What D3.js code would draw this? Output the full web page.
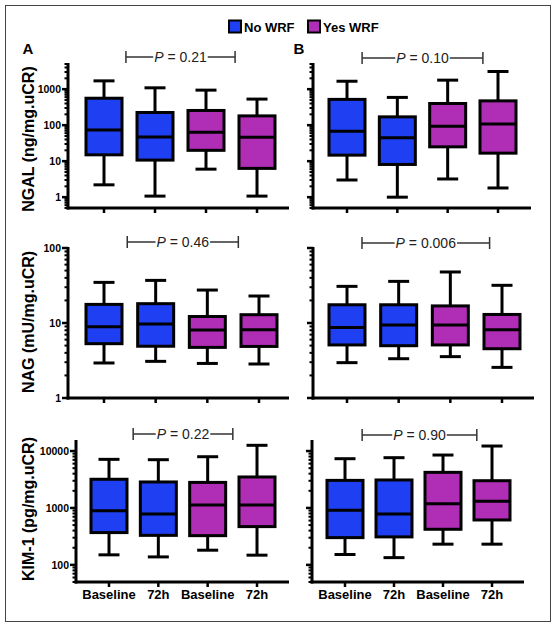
<!DOCTYPE html>
<html><head><meta charset="utf-8">
<script src="https://cdn.jsdelivr.net/npm/d3@7"></script>
<style>
html,body{margin:0;padding:0;background:#fff;}
svg text{font-family:"Liberation Sans",Arial,Helvetica,sans-serif;}
</style></head>
<body><svg id="c" width="556" height="628"></svg>
<script>
// ---- data ----
const categories = ["Baseline", "72h", "Baseline", "72h"];
const groups = ["No WRF", "No WRF", "Yes WRF", "Yes WRF"];
const legendLabels = ["No WRF", "Yes WRF"];
const groupColors = ["#1f3ff2", "#b02db6"];
// five-number summaries: [whisker low, Q1, median, Q3, whisker high]
const ngalA = [[2.2, 15, 73, 560, 1700], [1.07, 10.7, 47, 225, 1090], [6.0, 20, 64, 256, 940], [1.07, 6.3, 46, 181, 530]];
const ngalB = [[3.0, 14.7, 68, 520, 1660], [1.0, 8.1, 44.5, 170, 590], [3.2, 25, 94, 400, 1780], [1.8, 16.7, 107, 473, 3100]];
const nagA = [[2.93, 5.3, 8.9, 17.7, 34.8], [3.08, 4.9, 9.7, 18.1, 37], [2.89, 4.73, 8.07, 12.2, 27.5], [2.84, 4.87, 8.15, 12.9, 22.9]];
const nagB = [[2.96, 5.1, 8.7, 17.5, 30.8], [3.34, 4.98, 9.4, 17.5, 35.9], [3.56, 5.1, 9.4, 16.9, 47.9], [2.56, 4.54, 8.15, 13.0, 31.8]];
const kimA = [[150, 369, 897, 3190, 7140], [138, 330, 785, 2860, 7040], [181, 326, 1130, 2810, 7940], [148, 470, 1130, 3500, 12600]];
const kimB = [[152, 301, 908, 3050, 7330], [134, 310, 785, 3100, 7640], [231, 422, 1190, 4220, 8500], [231, 615, 1305, 3010, 12240]];
const pValues = ["0.21", "0.10", "0.46", "0.006", "0.22", "0.90"];
const yLabels = ["NGAL (ng/mg.uCR)", "NAG (mU/mg.uCR)", "KIM-1 (pg/mg.uCR)"];
const yDomains = [[0.5, 5000], [1, 100], [50, 15000]];
const yTickLabels = [[1, 10, 100, 1000], [1, 10, 100], [100, 1000, 10000]];
const panelLetters = ["A", "B"];

// ---- layout ----
const svg = d3.select("#c");
svg.append("rect").attr("x", 5.5).attr("y", 5.5).attr("width", 545).attr("height", 616)
  .attr("fill", "none").attr("stroke", "#444").attr("stroke-width", 1);

const rows = [
  {top: 64, bottom: 208, panels: [
    {data: ngalA, axisX: 68, right: 289, x0: 104, x1: 257, br: [0.43, 2.57], brY: 57, p: 0, labels: true},
    {data: ngalB, axisX: 313, right: 531, x0: 347, x1: 498, br: [0.30, 2.70], brY: 58, p: 1, labels: false}]},
  {top: 248, bottom: 398, panels: [
    {data: nagA, axisX: 68, right: 289, x0: 104, x1: 259, br: [0.45, 2.6], brY: 242, p: 2, labels: true},
    {data: nagB, axisX: 313, right: 534, x0: 347, x1: 502, br: [0.29, 2.76], brY: 243, p: 3, labels: false}]},
  {top: 441, bottom: 582, panels: [
    {data: kimA, axisX: 76, right: 289, x0: 109, x1: 257, br: [0.49, 2.51], brY: 434, p: 4, labels: true},
    {data: kimB, axisX: 312, right: 524, x0: 345, x1: 492, br: [0.35, 2.69], brY: 435, p: 5, labels: false}]}
];
const yLabelY = [139, 322, 509];
const boxW = 36, capW = 21, sw = 3;

rows.forEach((row, ri) => {
  const y = d3.scaleLog().domain(yDomains[ri]).range([row.bottom, row.top]);
  // y-axis title
  svg.append("text").attr("transform", `translate(34,${yLabelY[ri]}) rotate(-90)`)
    .attr("text-anchor", "middle").attr("font-size", 16).attr("font-weight", "bold").text(yLabels[ri]);

  row.panels.forEach((pn, pi) => {
    const g = svg.append("g");
    const x = d3.scaleLinear().domain([0, 3]).range([pn.x0, pn.x1]);
    // y axis with log minor ticks
    const ticks = y.ticks().filter(t => t >= yDomains[ri][0] * 0.999 && t <= yDomains[ri][1] * 1.001);
    const majors = yTickLabels[ri];
    ticks.forEach(t => {
      const isMajor = majors.some(m => Math.abs(m - t) / m < 1e-6);
      g.append("line").attr("x1", pn.axisX - (isMajor ? 6 : 3.5)).attr("x2", pn.axisX)
        .attr("y1", y(t)).attr("y2", y(t)).attr("stroke", "#000").attr("stroke-width", isMajor ? 2.5 : 2);
    });
    if (pn.labels) {
      majors.forEach(t => {
        g.append("text").attr("x", pn.axisX - 7).attr("y", y(t)).attr("dy", "0.35em")
          .attr("text-anchor", "end").attr("font-size", 10.5).attr("font-weight", "bold")
          .text(d3.format("d")(t));
      });
    }
    g.append("line").attr("x1", pn.axisX).attr("x2", pn.axisX).attr("y1", row.top - 1).attr("y2", row.bottom + 1.5)
      .attr("stroke", "#000").attr("stroke-width", sw);
    g.append("line").attr("x1", pn.axisX - 1.5).attr("x2", pn.right).attr("y1", row.bottom).attr("y2", row.bottom)
      .attr("stroke", "#000").attr("stroke-width", sw);
    categories.forEach((c, i) => {
      g.append("line").attr("x1", x(i)).attr("x2", x(i)).attr("y1", row.bottom).attr("y2", row.bottom + 5)
        .attr("stroke", "#000").attr("stroke-width", 2.5);
      if (ri === 2) {
        g.append("text").attr("x", x(i)).attr("y", row.bottom + 17).attr("text-anchor", "middle")
          .attr("font-size", 13).attr("font-weight", "bold").text(c);
      }
    });
    // boxes
    pn.data.forEach((d, i) => {
      const cx = x(i);
      const col = groupColors[legendLabels.indexOf(groups[i])];
      const bg = g.append("g").attr("stroke", "#000").attr("stroke-width", sw);
      bg.append("line").attr("x1", cx).attr("x2", cx).attr("y1", y(d[0])).attr("y2", y(d[1]));
      bg.append("line").attr("x1", cx).attr("x2", cx).attr("y1", y(d[3])).attr("y2", y(d[4]));
      bg.append("line").attr("x1", cx - capW / 2).attr("x2", cx + capW / 2).attr("y1", y(d[0])).attr("y2", y(d[0]));
      bg.append("line").attr("x1", cx - capW / 2).attr("x2", cx + capW / 2).attr("y1", y(d[4])).attr("y2", y(d[4]));
      bg.append("rect").attr("x", cx - boxW / 2).attr("y", y(d[3])).attr("width", boxW)
        .attr("height", y(d[1]) - y(d[3])).attr("fill", col);
      bg.append("line").attr("x1", cx - boxW / 2).attr("x2", cx + boxW / 2).attr("y1", y(d[2])).attr("y2", y(d[2]));
    });
    // p-value bracket
    const bx1 = x(pn.br[0]), bx2 = x(pn.br[1]), by = pn.brY;
    const mid = (bx1 + bx2) / 2;
    const t = g.append("text").attr("x", mid).attr("y", by).attr("dy", "0.36em").attr("text-anchor", "middle")
      .attr("font-size", 14).attr("fill", "#222");
    t.append("tspan").attr("font-style", "italic").text("P");
    t.append("tspan").text(" = " + pValues[pn.p]);
    const tw = t.node().getComputedTextLength();
    const bl = g.append("g").attr("stroke", "#333").attr("stroke-width", 1.5);
    bl.append("line").attr("x1", bx1).attr("x2", bx1).attr("y1", by - 6).attr("y2", by + 6);
    bl.append("line").attr("x1", bx2).attr("x2", bx2).attr("y1", by - 6).attr("y2", by + 6);
    bl.append("line").attr("x1", bx1).attr("x2", mid - tw / 2 - 1).attr("y1", by).attr("y2", by);
    bl.append("line").attr("x1", mid + tw / 2 + 1).attr("x2", bx2).attr("y1", by).attr("y2", by);

    if (ri === 0) {
      svg.append("text").attr("x", pi === 0 ? 28 : 299).attr("y", 54).attr("text-anchor", "middle")
        .attr("font-size", 15).attr("font-weight", "bold").text(panelLetters[pi]);
    }
  });
});

// legend
const legX = [228, 307];
legendLabels.forEach((l, i) => {
  svg.append("rect").attr("x", legX[i] + 1).attr("y", 20.5).attr("width", 12).attr("height", 12)
    .attr("fill", groupColors[i]).attr("stroke", "#000").attr("stroke-width", 2);
  svg.append("text").attr("x", legX[i] + 16).attr("y", 31.5).attr("font-size", 13).attr("font-weight", "bold").text(l);
});
</script></body></html>
